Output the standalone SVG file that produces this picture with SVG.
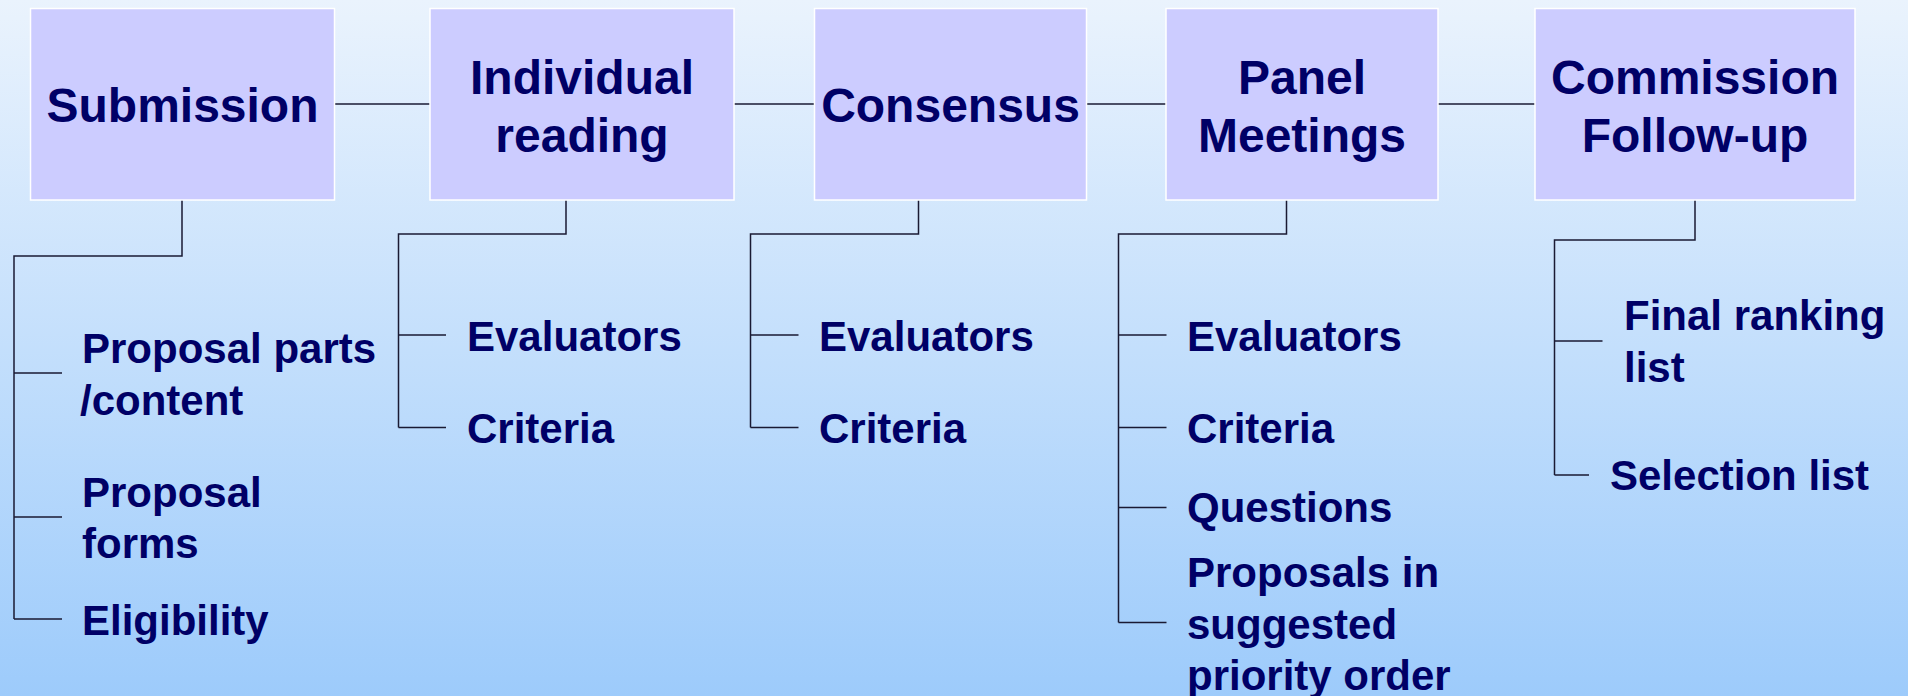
<svg xmlns="http://www.w3.org/2000/svg" width="1908" height="696" viewBox="0 0 1908 696">
  <defs>
    <linearGradient id="bg" x1="0" y1="0" x2="0" y2="1">
      <stop offset="0" stop-color="#EAF3FD"/>
      <stop offset="1" stop-color="#9DCBFB"/>
    </linearGradient>
    <style>
      .box { fill: #CCCCFF; stroke: #FFFFFF; stroke-width: 1.5; }
      .title { font-family: "Liberation Sans", Arial, sans-serif; font-weight: bold; font-size: 48px; fill: #000066; text-anchor: middle; }
      .item { font-family: "Liberation Sans", Arial, sans-serif; font-weight: bold; font-size: 42px; fill: #000066; }
      .conn { fill: none; stroke: #1A1A33; stroke-width: 1.5; }
    </style>
  </defs>
  <rect x="0" y="0" width="1908" height="696" fill="url(#bg)"/>

  <g id="connectors">
    <!-- between boxes -->
    <line class="conn" x1="334.5" y1="104" x2="430" y2="104"/>
    <line class="conn" x1="734" y1="104" x2="814.5" y2="104"/>
    <line class="conn" x1="1086.5" y1="104" x2="1166" y2="104"/>
    <line class="conn" x1="1438" y1="104" x2="1535" y2="104"/>
    <!-- Submission tree -->
    <path class="conn" d="M182,200 V256 H14 V619"/>
    <path class="conn" d="M14,373 H62 M14,517 H62 M14,619 H62"/>
    <!-- Individual reading tree -->
    <path class="conn" d="M566,200 V234 H398.5 V427.5"/>
    <path class="conn" d="M398.5,335 H446 M398.5,427.5 H446"/>
    <!-- Consensus tree -->
    <path class="conn" d="M918.5,200 V234 H750.5 V427.5"/>
    <path class="conn" d="M750.5,335 H798.5 M750.5,427.5 H798.5"/>
    <!-- Panel Meetings tree -->
    <path class="conn" d="M1286.5,200 V234 H1118.5 V622.5"/>
    <path class="conn" d="M1118.5,335 H1166.5 M1118.5,427.5 H1166.5 M1118.5,507.5 H1166.5 M1118.5,622.5 H1166.5"/>
    <!-- Commission tree -->
    <path class="conn" d="M1695,200 V240 H1554.5 V475"/>
    <path class="conn" d="M1554.5,341 H1602.5 M1554.5,475 H1589"/>
  </g>

  <g id="submission">
    <rect class="box" x="30.5" y="8.5" width="304" height="191.5"/>
    <text class="title" x="182.5" y="122">Submission</text>
  </g>
  <g id="individual-reading">
    <rect class="box" x="430" y="8.5" width="304" height="191.5"/>
    <text class="title" x="582" y="94">Individual</text>
    <text class="title" x="582" y="152">reading</text>
  </g>
  <g id="consensus">
    <rect class="box" x="814.5" y="8.5" width="272" height="191.5"/>
    <text class="title" x="950.5" y="122">Consensus</text>
  </g>
  <g id="panel-meetings">
    <rect class="box" x="1166" y="8.5" width="272" height="191.5"/>
    <text class="title" x="1302" y="94">Panel</text>
    <text class="title" x="1302" y="152">Meetings</text>
  </g>
  <g id="commission-follow-up">
    <rect class="box" x="1535" y="8.5" width="320" height="191.5"/>
    <text class="title" x="1695" y="94">Commission</text>
    <text class="title" x="1695" y="152">Follow-up</text>
  </g>

  <g id="submission-items">
    <text class="item" x="82" y="363">Proposal parts</text>
    <text class="item" x="80" y="415">/content</text>
    <text class="item" x="82" y="507">Proposal</text>
    <text class="item" x="82" y="558">forms</text>
    <text class="item" x="82" y="635">Eligibility</text>
  </g>
  <g id="individual-items">
    <text class="item" x="467" y="351">Evaluators</text>
    <text class="item" x="467" y="443">Criteria</text>
  </g>
  <g id="consensus-items">
    <text class="item" x="819" y="351">Evaluators</text>
    <text class="item" x="819" y="443">Criteria</text>
  </g>
  <g id="panel-items">
    <text class="item" x="1187" y="351">Evaluators</text>
    <text class="item" x="1187" y="443">Criteria</text>
    <text class="item" x="1187" y="522">Questions</text>
    <text class="item" x="1187" y="587">Proposals in</text>
    <text class="item" x="1187" y="638.5">suggested</text>
    <text class="item" x="1187" y="690">priority order</text>
  </g>
  <g id="commission-items">
    <text class="item" x="1624" y="330">Final ranking</text>
    <text class="item" x="1624" y="382">list</text>
    <text class="item" x="1610" y="490">Selection list</text>
  </g>
</svg>
